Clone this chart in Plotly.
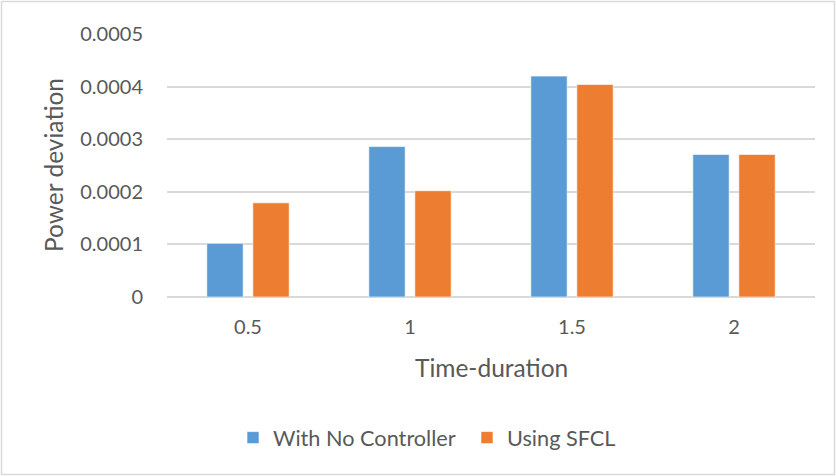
import plotly.graph_objects as go

categories = ["0.5", "1", "1.5", "2"]
no_controller = [0.000102, 0.000286, 0.000420, 0.000271]
using_sfcl = [0.000179, 0.000202, 0.000404, 0.000271]
y_ticks = [0, 0.0001, 0.0002, 0.0003, 0.0004, 0.0005]
y_tick_labels = ["0", "0.0001", "0.0002", "0.0003", "0.0004", "0.0005"]

FONT = "Lato"
TXT = "#595959"

fig = go.Figure()
fig.add_trace(go.Bar(x=categories, y=no_controller, name="With No Controller",
                     marker=dict(color="#5B9BD5", line=dict(color="rgba(255,255,255,0.6)", width=1))))
fig.add_trace(go.Bar(x=categories, y=using_sfcl, name="Using SFCL",
                     marker=dict(color="#ED7D31", line=dict(color="rgba(255,255,255,0.6)", width=1))))

fig.update_layout(
    width=836, height=476,
    margin=dict(l=167, r=21, t=34, b=179, autoexpand=False),
    paper_bgcolor="white", plot_bgcolor="white",
    barmode="group", bargap=0.432, bargroupgap=0.21,
    font=dict(family=FONT, size=20, color=TXT),
    showlegend=True,
    legend=dict(orientation="h", x=(247 - 167 - 14) / 648, xanchor="left", y=-0.536, yanchor="middle",
                font=dict(family=FONT, size=21.7, color=TXT), itemwidth=30,
                entrywidth=189,
                traceorder="normal", bgcolor="rgba(0,0,0,0)"),
    xaxis=dict(type="category", showgrid=False, zeroline=False, showline=False,
               automargin=False,
               ticks="outside", ticklen=12, tickcolor="rgba(0,0,0,0)",
               tickfont=dict(family=FONT, size=20, color=TXT)),
    yaxis=dict(range=[0, 0.0005], tickvals=y_ticks, ticktext=y_tick_labels,
               automargin=False,
               showgrid=True, gridcolor="#D9D9D9", gridwidth=1.5,
               zeroline=True, zerolinecolor="#D9D9D9", zerolinewidth=1.5,
               showline=False, ticks="outside", ticklen=19, tickcolor="rgba(0,0,0,0)",
               tickfont=dict(family=FONT, size=20, color=TXT)),
    annotations=[
        dict(text="Time-duration", xref="paper", yref="paper", x=0.5, y=(297 - 367) / 263,
             xanchor="center", yanchor="middle", showarrow=False,
             font=dict(family=FONT, size=24.5, color=TXT)),
        dict(text="Power deviation", xref="paper", yref="paper", x=(53 - 167) / 648,
             y=(297 - 165) / 263, xanchor="center", yanchor="middle", textangle=-90,
             showarrow=False, font=dict(family=FONT, size=24.5, color=TXT)),
    ],
    shapes=[dict(type="rect", xref="paper", yref="paper",
                 x0=(1.5 - 167) / 648, x1=(834.5 - 167) / 648,
                 y0=(297 - 474.5) / 263, y1=(297 - 1.5) / 263,
                 line=dict(color="#D9D9D9", width=1.5), fillcolor="rgba(0,0,0,0)", layer="below")],
)

fig.write_html("out.html", config={"displayModeBar": False},
               post_script="document.body.style.margin='0';")
